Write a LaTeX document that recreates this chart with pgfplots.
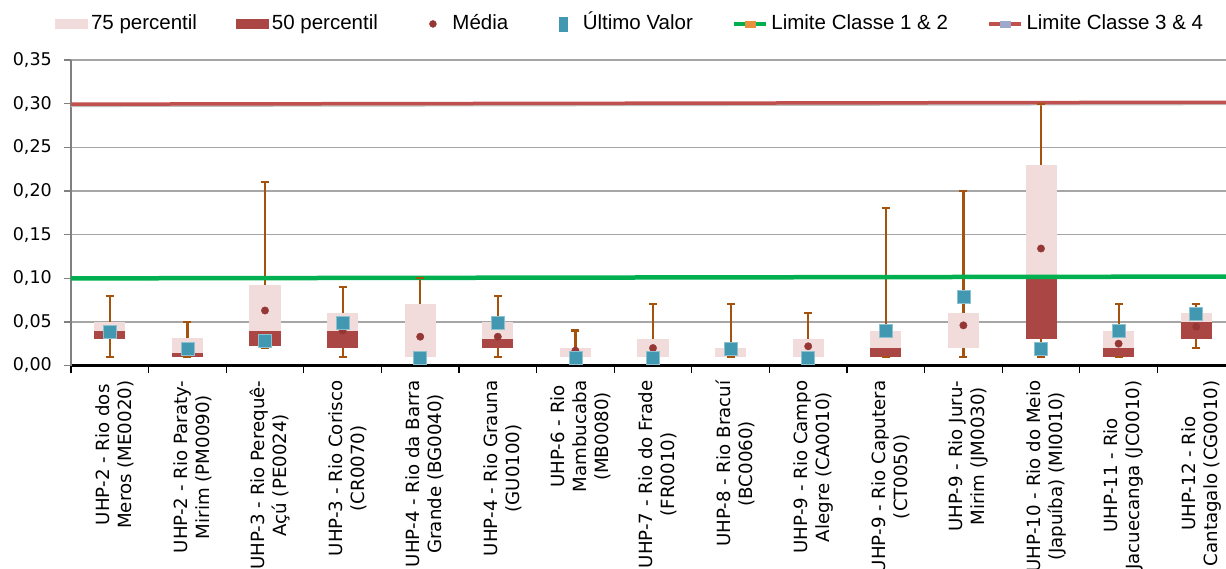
\documentclass[border=0pt]{standalone}
\usepackage{pgfplots}
\pgfplotsset{compat=1.18}
\usepackage{pgfplotstable}
\usepackage{fontspec}
\setmainfont{DejaVu Sans}
\newfontfamily\arialf{Liberation Sans}
\newfontfamily\dejavu{DejaVu Sans}
\definecolor{pinkc}{HTML}{F2DCDB}
\definecolor{darkc}{HTML}{AA4643}
\definecolor{meanc}{HTML}{953735}
\definecolor{tealc}{HTML}{4298B0}
\definecolor{whiskc}{HTML}{A5520C}
\definecolor{greenc}{HTML}{00B050}
\definecolor{redc}{HTML}{C0504D}
\definecolor{gridc}{HTML}{A6A6A6}
\definecolor{orangec}{HTML}{E8913C}
\definecolor{lavc}{HTML}{9DA9CC}

\pgfplotstableread{
x  mn    p25   med   p75   mx    mean   last
0  0.01  0.03  0.04  0.05  0.08  0.040  0.039
1  0.01  0.01  0.014 0.032 0.05  0.020  0.019
2  0.02  0.022 0.04  0.092 0.21  0.063  0.028
3  0.01  0.02  0.04  0.06  0.09  0.040  0.049
4  0.01  0.01  0.01  0.07  0.10  0.033  0.009
5  0.01  0.02  0.03  0.05  0.08  0.033  0.049
6  0.01  0.01  0.01  0.02  0.04  0.017  0.009
7  0.01  0.01  0.01  0.03  0.07  0.020  0.009
8  0.01  0.01  0.01  0.02  0.07  0.019  0.019
9  0.01  0.01  0.01  0.03  0.06  0.022  0.009
10 0.01  0.01  0.02  0.04  0.18  0.040  0.040
11 0.01  0.02  0.02  0.06  0.20  0.046  0.079
12 0.01  0.03  0.10  0.23  0.30  0.134  0.019
13 0.01  0.01  0.02  0.04  0.07  0.025  0.040
14 0.02  0.03  0.05  0.06  0.07  0.0445 0.059
}\data

\begin{document}
\begin{tikzpicture}
\path[use as bounding box] (0,0) rectangle (1226bp,569bp);
\clip (0,0) rectangle (1226bp,569bp);
\begin{axis}[
  at={(71bp,203.5bp)}, anchor=south west,
  scale only axis, width=1164bp, height=305.5bp,
  xmin=-0.5, xmax=14.5, ymin=0, ymax=0.35,
  axis x line*=bottom, axis y line*=left,
  x axis line style={-, black, line width=2bp},
  y axis line style={-, color=gray, line width=1.5bp},
  tick align=outside,
  major tick length=7bp,
  ytick={0,0.05,0.1,0.15,0.2,0.25,0.3,0.35},
  ymajorgrids, grid style={gridc, line width=1.3bp},
  ytick style={gray, line width=1.3bp},
  yticklabel style={font=\dejavu\fontsize{17.5bp}{20bp}\selectfont, inner xsep=12bp,
    /pgf/number format/.cd, fixed, fixed zerofill, precision=2, use comma, assume math mode=true},
  xtick={0,1,...,14},
  xtick style={draw=none},
  xticklabels={{UHP-2 - Rio dos\\Meros (ME0020)},
    {UHP-2 - Rio Paraty-\\Mirim (PM0090)},
    {UHP-3 - Rio Perequê-\\Açú (PE0024)},
    {UHP-3 - Rio Corisco\\(CR0070)},
    {UHP-4 - Rio da Barra\\Grande (BG0040)},
    {UHP-4 - Rio Grauna\\(GU0100)},
    {UHP-6 - Rio\\Mambucaba\\(MB0080)},
    {UHP-7 - Rio do Frade\\(FR0010)},
    {UHP-8 - Rio Bracuí\\(BC0060)},
    {UHP-9 - Rio Campo\\Alegre (CA0010)},
    {UHP-9 - Rio Caputera\\(CT0050)},
    {UHP-9 - Rio Juru-\\Mirim (JM0030)},
    {UHP-10 - Rio do Meio\\(Japuíba) (MI0010)},
    {UHP-11 - Rio\\Jacuecanga (JC0010)},
    {UHP-12 - Rio\\Cantagalo (CG0010)}},
  xticklabel style={xshift=5bp, yshift=-2bp, rotate=90, anchor=east, align=center,
    font=\dejavu\fontsize{18.2bp}{22bp}\selectfont, inner xsep=6bp, inner ysep=0pt},
  extra x ticks={-0.5,0.5,...,14.5},
  extra x tick labels={},
  extra x tick style={xtick style={draw=black, line width=1.2bp}, major tick length=8bp, grid=none},
  legend columns=6,
  legend style={draw=none, fill=none, inner sep=0pt,
    at={(-0.01375,1.118)}, anchor=west,
    font=\arialf\fontsize{20.5bp}{24bp}\selectfont,
    nodes={inner sep=0pt, text height=15bp, text depth=4bp},
    /tikz/every odd column/.append style={column sep=3.5bp},
    /tikz/every even column/.append style={column sep=39bp}},
  legend cell align=left,
]
% legend images
\addlegendimage{legend image code/.code={\fill[pinkc] (0bp,-4.5bp) rectangle (32bp,4.5bp);}}
\addlegendentry{75 percentil}
\addlegendimage{legend image code/.code={\fill[darkc] (0bp,-4.5bp) rectangle (32bp,4.5bp);}}
\addlegendentry{50 percentil}
\addlegendimage{legend image code/.code={\path[draw=none, fill=none] (0bp,-4.5bp) rectangle (32bp,4.5bp); \fill[meanc] (16bp,0bp) circle (3.5bp);}}
\addlegendentry{Média}
\addlegendimage{legend image code/.code={\path[draw=none, fill=none] (0bp,-4.5bp) rectangle (32bp,4.5bp); \fill[tealc] (12bp,-7bp) rectangle (20bp,7bp);}}
\addlegendentry{Último Valor}
\addlegendimage{legend image code/.code={\draw[greenc, line width=4bp] (0bp,0bp) -- (32bp,0bp); \fill[orangec] (11bp,-3bp) rectangle (21bp,3bp);}}
\addlegendentry{Limite Classe 1 \& 2}
\addlegendimage{legend image code/.code={\draw[redc, line width=4bp] (0bp,0bp) -- (32bp,0bp); \fill[lavc] (11bp,-3bp) rectangle (21bp,3bp);}}
\addlegendentry{Limite Classe 3 \& 4}

% whiskers
\addplot [draw=none, mark=none, forget plot,
  error bars/.cd, y dir=plus, y explicit, error mark=none,
  error bar style={draw=whiskc, line width=2.2bp}]
  table [x=x, y=mn, y error plus expr=\thisrow{mx}-\thisrow{mn}] {\data};
\addplot [only marks, mark=-, mark size=4bp, mark options={draw=whiskc, line width=2.2bp}, forget plot]
  table [x=x, y=mn] {\data};
\addplot [only marks, mark=-, mark size=4bp, mark options={draw=whiskc, line width=2.2bp}, forget plot]
  table [x=x, y=mx] {\data};
% 75 percentil boxes
\addplot [draw=none, mark=none, forget plot,
  error bars/.cd, y dir=plus, y explicit, error mark=none,
  error bar style={draw=pinkc, line width=31bp}]
  table [x=x, y=p25, y error plus expr=\thisrow{p75}-\thisrow{p25}] {\data};
% 50 percentil boxes
\addplot [draw=none, mark=none, forget plot,
  error bars/.cd, y dir=plus, y explicit, error mark=none,
  error bar style={draw=darkc, line width=31bp}]
  table [x=x, y=p25, y error plus expr=\thisrow{med}-\thisrow{p25}] {\data};
% limits
\addplot [greenc, line width=4.5bp, forget plot] coordinates {(-0.5,0.0998) (14.5,0.1019)};
\addplot [black!25, line width=2bp, forget plot] coordinates {(-0.5,0.2972) (14.5,0.2994)};
\addplot [redc, line width=3.5bp, forget plot] coordinates {(-0.5,0.2994) (14.5,0.3016)};
% mean
\addplot [only marks, mark=*, mark size=3.7bp, mark options={fill=meanc, draw=meanc}, forget plot]
  table [x=x, y=mean] {\data};
% last value
\addplot [only marks, mark=square*, mark size=6.5bp, mark options={fill=tealc, draw=tealc!60!white, line width=0.6bp}, forget plot]
  table [x=x, y=last] {\data};
\end{axis}
\end{tikzpicture}
\end{document}
